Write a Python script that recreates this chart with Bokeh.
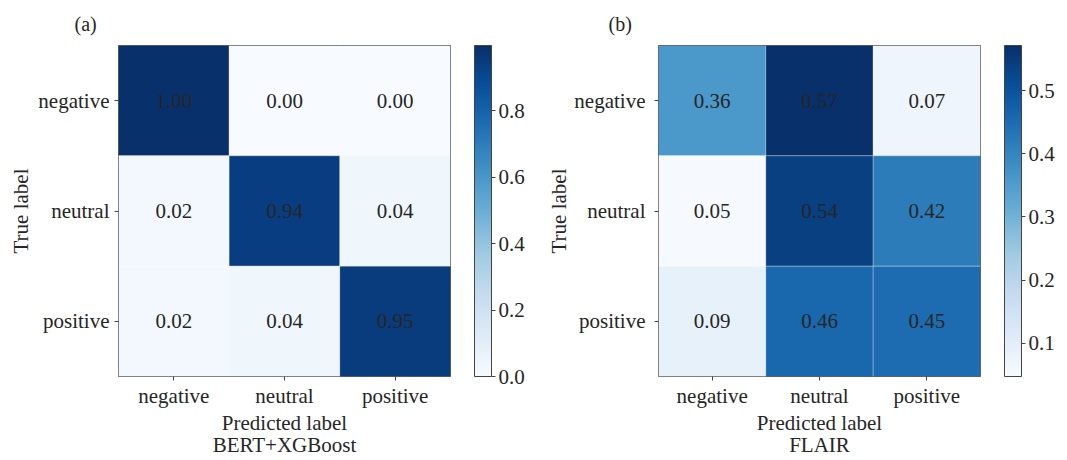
from bokeh.plotting import figure
from bokeh.models import (ColumnDataSource, LinearColorMapper, ColorBar, FixedTicker,
                          PrintfTickFormatter, FactorRange, CategoricalAxis)
from bokeh.layouts import row
from bokeh.palettes import Blues256
from bokeh.embed import file_html
from bokeh.resources import INLINE
from bokeh.core.properties import value

# ---- data ----
categories = ["negative", "neutral", "positive"]
bert_xgboost = [[1.00, 0.00, 0.00],
                [0.02, 0.94, 0.04],
                [0.02, 0.04, 0.95]]
flair = [[0.36, 0.57, 0.07],
         [0.05, 0.54, 0.42],
         [0.09, 0.46, 0.45]]
cbar_ticks_a = [0.0, 0.2, 0.4, 0.6, 0.8]
cbar_ticks_b = [0.1, 0.2, 0.3, 0.4, 0.5]
color_range_a = (0.0, 0.997)
color_range_b = (0.047, 0.572)

FONT = "Liberation Serif"
FS = "21px"
TXT = "#262626"


def panel(matrix, model_name, tag, tag_off, ticks, crange, frame_w, border_left,
          border_right, ystand, ylabel_standoff, outer_pad):
    xs, ys, vals, labels = [], [], [], []
    for i, t in enumerate(categories):
        for j, pc in enumerate(categories):
            xs.append(pc)
            ys.append(t)
            vals.append(matrix[i][j])
            labels.append(f"{matrix[i][j]:.2f}")
    src = ColumnDataSource(dict(x=xs, y=ys, v=vals, label=labels))
    mapper = LinearColorMapper(palette=list(reversed(Blues256)), low=crange[0], high=crange[1])

    p = figure(x_range=FactorRange(*categories), y_range=FactorRange(*reversed(categories)),
               frame_width=frame_w, frame_height=331,
               min_border_left=border_left, min_border_right=border_right,
               min_border_top=41, min_border_bottom=72,
               output_backend="svg", toolbar_location=None, tools="",
               title=tag)
    p.title.align = "left"
    p.title.offset = tag_off
    p.title.text_font = FONT
    p.title.text_font_size = "20px"
    p.title.text_font_style = "normal"
    p.title.text_color = TXT
    p.title.standoff = 21
    p.rect(x="x", y="y", width=1, height=1, source=src,
           fill_color={"field": "v", "transform": mapper},
           line_color="white", line_width=1, line_alpha=0.25)
    p.text(x="x", y="y", text="label", source=src, text_align="center",
           text_baseline="middle", text_font=value(FONT), text_font_size=FS,
           text_color=TXT)

    p.grid.visible = False
    p.outline_line_color = "#444444"
    p.outline_line_width = 1
    for ax in (p.xaxis[0], p.yaxis[0]):
        ax.major_label_text_font = FONT
        ax.major_label_text_font_size = FS
        ax.major_label_text_color = TXT
        ax.axis_label_text_font = FONT
        ax.axis_label_text_font_size = FS
        ax.axis_label_text_font_style = "normal"
        ax.axis_label_text_color = TXT
        ax.axis_line_color = None
        ax.major_tick_in = 0
        ax.major_tick_out = 4
        ax.major_tick_line_color = "#444444"
        ax.minor_tick_line_color = None
    p.xaxis.major_label_standoff = 3
    p.xaxis.major_label_overrides = {"neutral": "neutral\u00a0"}
    p.yaxis.major_label_standoff = ystand
    p.yaxis.major_label_overrides = {"neutral": "neutral\u00a0\u2009"}
    p.xaxis.axis_label = "Predicted label\n" + model_name
    p.xaxis.axis_label_standoff = 0
    p.xaxis.axis_label_text_line_height = 0.95
    p.yaxis.axis_label = "True label"
    p.yaxis.axis_label_standoff = ylabel_standoff
    p.yaxis.major_label_orientation = "horizontal"

    # empty outer spacer axis (adds a little room left of the "True label" title)
    spacer = CategoricalAxis(major_tick_out=outer_pad, major_tick_in=0,
                             major_label_standoff=0,
                             major_label_overrides={c: "" for c in categories},
                             major_label_text_font_size="0px",
                             major_label_text_alpha=0,
                             axis_line_color=None, major_tick_line_color=None,
                             minor_tick_line_color=None)
    p.add_layout(spacer, "left")

    cb = ColorBar(color_mapper=mapper, ticker=FixedTicker(ticks=ticks),
                  formatter=PrintfTickFormatter(format="%.1f"),
                  width=17, height=331, location=(24, 0), margin=0, padding=0,
                  major_tick_in=0, major_tick_out=4,
                  major_tick_line_color="#444444",
                  label_standoff=3,
                  major_label_text_font=FONT, major_label_text_font_size=FS,
                  major_label_text_color=TXT,
                  bar_line_color="#444444", bar_line_width=1,
                  border_line_color=None, background_fill_color=None)
    p.add_layout(cb, "right")
    return p


p1 = panel(bert_xgboost, "BERT+XGBoost", "(a)", -44, cbar_ticks_a, color_range_a,
           332, 110, 80, 5, 2, 6)
p2 = panel(flair, "FLAIR", "(b)", -50, cbar_ticks_b, color_range_b,
           322, 128, 79, 9, 0, 8)

layout = row(p1, p2)
open("out.html", "w").write(file_html(layout, INLINE))
